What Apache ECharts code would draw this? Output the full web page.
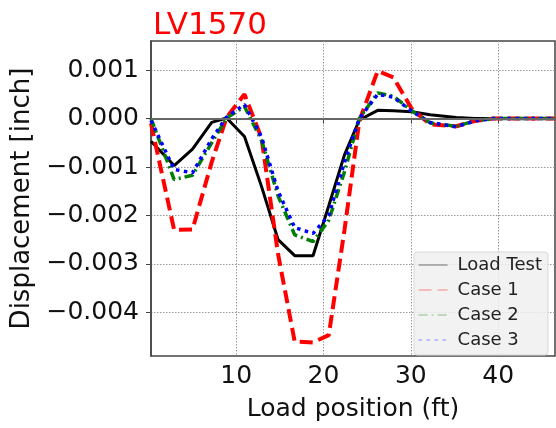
<!DOCTYPE html>
<html style="height: 100%">
<head>
    <meta charset="utf-8">
    <script type="text/javascript" src="https://cdn.jsdelivr.net/npm/echarts@6/dist/echarts.min.js"></script>
</head>
<body style="height: 100%; margin: 0; background: #fff">
<div id="container" style="width: 556px; height: 428px"></div>
<script type="text/javascript">
    // load positions (ft), shared by all curves
    var loadPos = [0.25, 2.9, 5.0, 7.2, 8.9, 10.95, 12.9, 14.8, 16.7, 18.8, 20.6, 22.4, 24.1, 26.2, 28.0, 30.1, 32.2, 35.2, 37.3, 39.4, 42.5, 46.5];
    // displacement [inch]
    var loadTest = [-0.00047, -0.00097, -0.00063, -0.00008, 0.00001, -0.00037, -0.0014, -0.0025, -0.00283, -0.00283, -0.0018, -0.00075, -0.00003, 0.00017, 0.00016, 0.00014, 0.00008, 0.00002, 0.0, 0.0, 0.0, 0.0];
    var case1 = [-0.0001, -0.0023, -0.00229, -0.0009, 0.00002, 0.0005, -0.0004, -0.0028, -0.0046, -0.00462, -0.00447, -0.0023, -0.00005, 0.00098, 0.00085, 0.0002, -0.00012, -0.00016, -0.00005, 0.0, 0.0, 0.0];
    var case2 = [0.0, -0.00126, -0.00117, -0.0005, 0.00001, 0.00025, -0.00045, -0.0016, -0.0024, -0.00254, -0.0021, -0.0011, 0.0, 0.00053, 0.00046, 0.00016, -0.00009, -0.00016, -0.00005, 0.0, 0.0, 0.0];
    var case3 = [-0.00004, -0.00105, -0.00112, -0.00042, 0.00003, 0.00029, -0.00038, -0.0015, -0.00225, -0.00237, -0.002, -0.0009, 0.0, 0.0005, 0.00044, 0.00015, -0.00008, -0.00017, -0.00005, 0.0, 0.0, 0.0];
    var xTicks = [10, 20, 30, 40];
    var yTicks = [-0.004, -0.003, -0.002, -0.001, 0, 0.001];

    function pairs(ys) {
        return loadPos.map(function (x, i) { return [x, ys[i]]; });
    }

    var font = 'DejaVu Sans';
    var myChart = echarts.init(document.getElementById('container'));
    var option = {
        animation: false,
        title: {
            text: 'LV1570',
            left: 148,
            top: 5,
            textStyle: {color: '#ff0000', fontFamily: font, fontSize: 31, fontWeight: 'normal'}
        },
        legend: {
            orient: 'vertical',
            left: 414,
            top: 252,
            padding: [4, 6, 6, 4],
            itemGap: 7,
            itemWidth: 29,
            itemHeight: 10,
            backgroundColor: 'rgba(240,240,240,0.85)',
            borderColor: '#d8d8d8',
            borderWidth: 1,
            borderRadius: 3,
            itemStyle: {opacity: 0},
            lineStyle: {width: 1.2, opacity: 0.45},
            textStyle: {fontFamily: font, fontSize: 18, color: '#222', lineHeight: 18, padding: [0, 0, 0, 5]},
            data: ['Load Test', 'Case 1', 'Case 2', 'Case 3']
        },
        grid: {
            left: 151, right: 1, top: 41, bottom: 72,
            show: true,
            borderColor: '#444',
            borderWidth: 1.5
        },
        xAxis: {
            type: 'value',
            min: 0.25,
            max: 46.5,
            name: 'Load position (ft)',
            nameLocation: 'middle',
            nameGap: 41,
            nameTextStyle: {fontFamily: font, fontSize: 25, color: '#111'},
            axisLine: {lineStyle: {color: '#444', width: 1.5}},
            axisTick: {customValues: xTicks, length: 5, lineStyle: {color: '#444'}},
            axisLabel: {customValues: xTicks, margin: 8, fontFamily: font, fontSize: 25, color: '#111'},
            splitLine: {show: true, lineStyle: {color: '#999', type: [1.5, 1.5], width: 1}}
        },
        yAxis: {
            type: 'value',
            min: -0.0049,
            max: 0.0016,
            name: 'Displacement [inch]',
            nameLocation: 'middle',
            nameGap: 116,
            nameTextStyle: {fontFamily: font, fontSize: 26, color: '#111'},
            axisLine: {show: true, lineStyle: {color: '#444', width: 1.5}},
            axisTick: {show: true, customValues: yTicks, length: 5, lineStyle: {color: '#444'}},
            axisLabel: {
                customValues: yTicks, margin: 12, fontFamily: font, fontSize: 25, color: '#111',
                formatter: function (v) { return v.toFixed(3).replace('-', '\u2212'); }
            },
            splitLine: {show: true, lineStyle: {color: '#999', type: [1.5, 1.5], width: 1}}
        },
        series: [
            {
                name: 'Load Test', type: 'line', symbol: 'none', color: '#000',
                lineStyle: {color: '#000', width: 3},
                data: pairs(loadTest),
                markLine: {
                    silent: true, symbol: 'none', label: {show: false},
                    lineStyle: {color: '#666', width: 1.8, type: 'solid'},
                    data: [{yAxis: 0}]
                }
            },
            {
                name: 'Case 1', type: 'line', symbol: 'none', color: '#ff0000',
                lineStyle: {color: '#ff0000', width: 4, type: [13, 6]},
                data: pairs(case1)
            },
            {
                name: 'Case 2', type: 'line', symbol: 'none', color: '#008000',
                lineStyle: {color: '#008000', width: 3.5, type: [9, 4, 2, 4]},
                data: pairs(case2)
            },
            {
                name: 'Case 3', type: 'line', symbol: 'none', color: '#0000ff',
                lineStyle: {color: '#0000ff', width: 3.5, type: [3.5, 4.5]},
                data: pairs(case3)
            }
        ]
    };
    myChart.setOption(option);
</script>
</body>
</html>
